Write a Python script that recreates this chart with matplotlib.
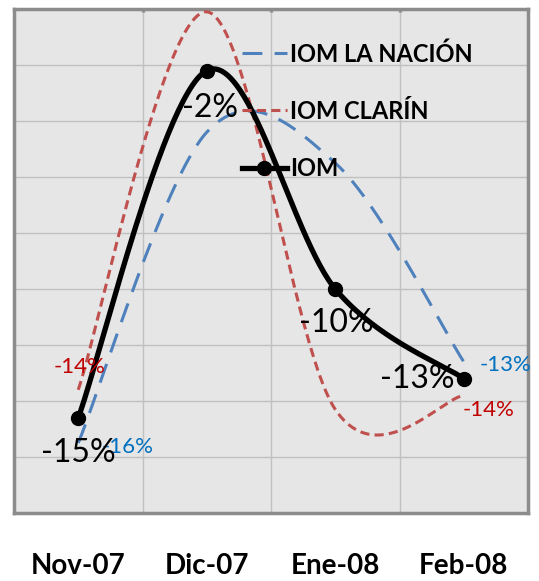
import numpy as np
import matplotlib
matplotlib.use("Agg")
import matplotlib.pyplot as plt
from matplotlib.lines import Line2D

categories = ["Nov-07", "Dic-07", "Ene-08", "Feb-08"]
iom = [-14.6, -2.2, -10.0, -13.2]
iom_clarin = [-13.6, -0.1, -14.3, -13.8]
iom_nacion = [-15.5, -4.4, -5.5, -12.6]

iom_labels = ["-15%", "-2%", "-10%", "-13%"]
clarin_labels = {0: "-14%", 3: "-14%"}
nacion_labels = {0: "-16%", 3: "-13%"}

C_BLUE = "#4F81BD"
C_RED = "#C0504D"
C_BLUE_T = "#0070C0"
C_RED_T = "#C00000"
FONT = "Lato"


def smooth(xs, ys, n=60):
    P = np.column_stack([xs, ys]).astype(float)
    m = len(P)
    out = []
    for i in range(m - 1):
        p0 = P[i]
        p3 = P[i + 1]
        pm = P[i - 1] if i > 0 else P[i]
        pp = P[i + 2] if i + 2 < m else P[i + 1]
        c1 = p0 + (p3 - pm) / 6.0
        c2 = p3 - (pp - p0) / 6.0
        t = np.linspace(0, 1, n)[:, None]
        seg = ((1 - t) ** 3) * p0 + 3 * ((1 - t) ** 2) * t * c1 + 3 * (1 - t) * t ** 2 * c2 + t ** 3 * p3
        out.append(seg if i == 0 else seg[1:])
    s = np.vstack(out)
    return s[:, 0], s[:, 1]


W, H = 539, 581
fig = plt.figure(figsize=(W / 100, H / 100), dpi=100)
ax = fig.add_axes([14 / W, 1 - 513 / H, (528 - 14) / W, (513 - 9) / H])
ax.set_facecolor("#E6E6E6")

x = np.arange(len(categories))

bx, by = smooth(x, iom_nacion)
ax.plot(bx, by, color=C_BLUE, lw=2.2, dashes=(6.5, 4), zorder=3, solid_capstyle="butt")
rx, ry = smooth(x, iom_clarin)
ax.plot(rx, ry, color=C_RED, lw=2.2, dashes=(3, 1.7), zorder=4)
kx, ky = smooth(x, iom)
ax.plot(kx, ky, color="black", lw=3.8, zorder=5, solid_capstyle="round")
ax.plot(x, iom, "o", color="black", ms=10, zorder=6)

ax.set_xlim(-0.5, 3.5)
ax.set_ylim(-18, 0)
ax.set_yticks(np.arange(-18, 1, 2))
ax.set_yticklabels([])
ax.tick_params(axis="y", length=0)
ax.set_xticks(x)
ax.set_xticklabels(categories, fontsize=20, fontweight="bold", family=FONT)
ax.tick_params(axis="x", which="major", length=0, pad=29)
ax.set_xticks([0.5, 1.5, 2.5], minor=True)
ax.tick_params(axis="x", which="minor", direction="in", length=2.5, width=2.5,
               color="#8C8C8C", bottom=False, top=True)
ax.grid(True, axis="y", which="major", color="#C0C0C0", lw=1)
ax.grid(True, axis="x", which="minor", color="#C0C0C0", lw=1)
ax.set_axisbelow(True)
for s in ax.spines.values():
    s.set_color("#8C8C8C")
    s.set_linewidth(2.5)

# data labels
iom_off = [(0, -35), (3, -37), (1, -34), (-47, 0)]
for i, (lab, off) in enumerate(zip(iom_labels, iom_off)):
    ax.annotate(lab, (x[i], iom[i]), xytext=off, textcoords="offset pixels",
                ha="center", va="center", fontsize=23, family=FONT, color="black", zorder=8)
clarin_off = {0: (1, 23), 3: (25, -15)}
for i, lab in clarin_labels.items():
    ax.annotate(lab, (x[i], iom_clarin[i]), xytext=clarin_off[i], textcoords="offset pixels",
                ha="center", va="center", fontsize=16, family=FONT, color=C_RED_T, zorder=7)
nacion_off = {0: (49, -4), 3: (42, -3)}
for i, lab in nacion_labels.items():
    ax.annotate(lab, (x[i], iom_nacion[i]), xytext=nacion_off[i], textcoords="offset pixels",
                ha="center", va="center", fontsize=16, family=FONT, color=C_BLUE_T, zorder=7)

handles = [
    Line2D([], [], color=C_BLUE, lw=2.2, dashes=(6.5, 4)),
    Line2D([], [], color=C_RED, lw=2.2, dashes=(3, 1.7)),
    Line2D([], [], color="black", lw=3.8, marker="o", ms=10),
]
leg = ax.legend(handles, ["IOM LA NACIÓN", "IOM CLARÍN", "IOM"], loc="upper left",
                bbox_to_anchor=(242 / W, 1 - 42 / H), bbox_transform=fig.transFigure,
                frameon=False, borderpad=0, borderaxespad=0, handlelength=1.9,
                handletextpad=0.15, labelspacing=1.45, numpoints=1,
                prop={"family": FONT, "weight": "bold", "size": 17})
leg.set_zorder(9)

fig.savefig("out.png", dpi=100)
